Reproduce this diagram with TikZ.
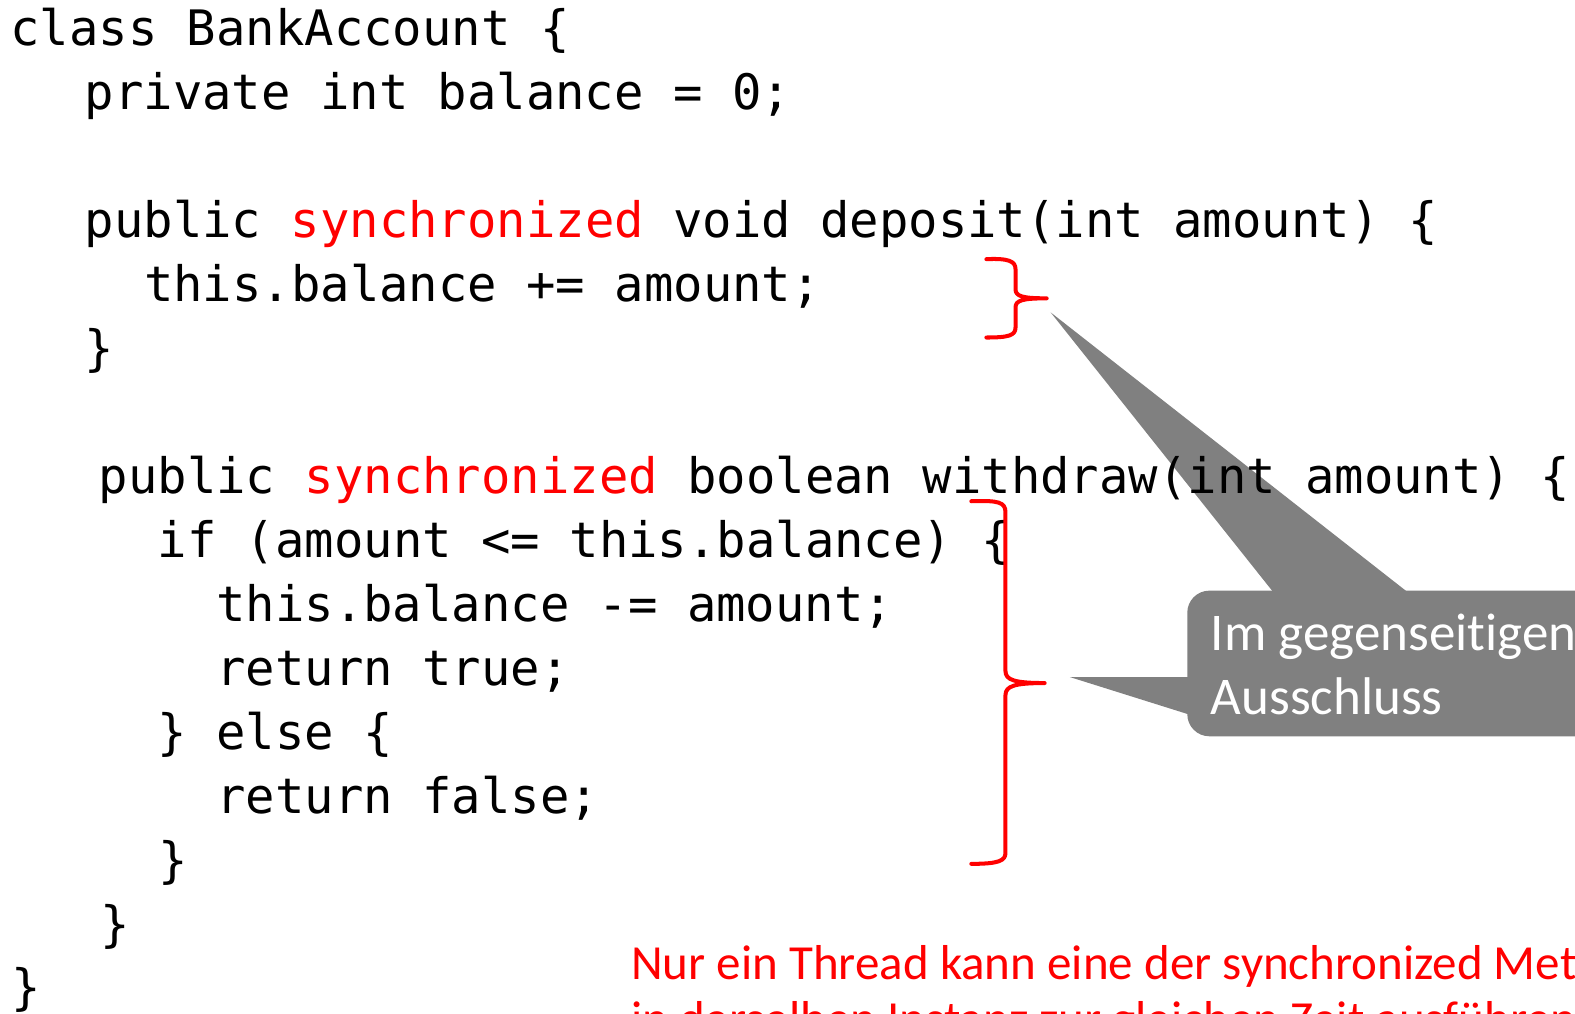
\documentclass[tikz,border=0pt]{standalone}
\usepackage{fontspec}
\setmainfont{Carlito}[Ligatures={NoCommon}]
\setmonofont{DejaVu Sans Mono}
\definecolor{calloutgray}{HTML}{808080}
\definecolor{keyred}{HTML}{FF0000}
\newcommand{\kw}[1]{\textcolor{keyred}{#1}}

\begin{document}
\begin{tikzpicture}[x=0.5pt,y=-0.5pt,
  code/.style={anchor=base west, inner sep=0pt, font=\fontsize{24.33}{30}\selectfont\ttfamily},
  callouttext/.style={anchor=base west, inner sep=0pt, text=white, font=\fontsize{26.4}{31.5}\selectfont},
  notetext/.style={anchor=base west, inner sep=0pt, text=keyred, font=\fontsize{24.4}{28}\selectfont},
  bracket/.style={draw=keyred, line width=2pt, line join=round, line cap=round}]

\clip (0,0) rectangle (1568,1008.5);
\fill[white] (0,0) rectangle (1568,1008.5);

% speech bubble with its two pointers
\fill[calloutgray, rounded corners=11pt] (1182,588) rectangle (1640,733);
\fill[calloutgray] (1046,311) -- (1268,590) -- (1402,590) -- cycle;
\fill[calloutgray] (1065,674) -- (1186,674) -- (1186,712) -- cycle;
\node[callouttext] (c1) at (1205,648) {Im gegenseitigen};
\node[callouttext] (c2) at (1205,711) {Ausschluss};

% source code
\node[code] (l1)  at (10,45)      {class BankAccount \{};
\node[code] (l2)  at (84,108.7)  {private int balance = 0;};
\node[code] (l3)  at (84,236)    {public \kw{synchronized} void deposit(int amount) \{};
\node[code] (l4)  at (143,299.8) {this.balance += amount;};
\node[code] (l5)  at (84,363.5)  {\}};
\node[code] (l6)  at (98,490.9)  {public \kw{synchronized} boolean withdraw(int amount) \{};
\node[code] (l7)  at (156.6,554.6) {if (amount <= this.balance) \{};
\node[code] (l8)  at (215,618.3) {this.balance -= amount;};
\node[code] (l9)  at (215,682)   {return true;};
\node[code] (l10) at (156.6,745.7) {\} else \{};
\node[code] (l11) at (215,809.4) {return false;};
\node[code] (l12) at (157.6,873.1) {\}};
\node[code] (l13) at (100,936.8)  {\}};
\node[code] (l14) at (11,1000.5)  {\}};

% braces marking the synchronized bodies
\draw[bracket] (982,258) .. controls (1004,257) and (1011,260) .. (1011,268)
  -- (1011,288) .. controls (1011,295) and (1018,297) .. (1042,297)
  .. controls (1018,297) and (1011,299) .. (1011,306)
  -- (1011,326) .. controls (1011,334) and (1004,336) .. (982,336);
\draw[bracket] (967,499) .. controls (994,498) and (1001,500) .. (1001,510)
  -- (1001,668) .. controls (1001,677) and (1010,680) .. (1040,680)
  .. controls (1010,680) and (1001,683) .. (1001,692)
  -- (1001,849) .. controls (1001,857) and (994,860) .. (967,860);

% note at the bottom
\node[notetext] (n1) at (628,975)  {Nur ein Thread kann eine der synchronized Methoden};
\node[notetext] (n2) at (628,1031) {in derselben Instanz zur gleichen Zeit ausführen};
\end{tikzpicture}
\end{document}
